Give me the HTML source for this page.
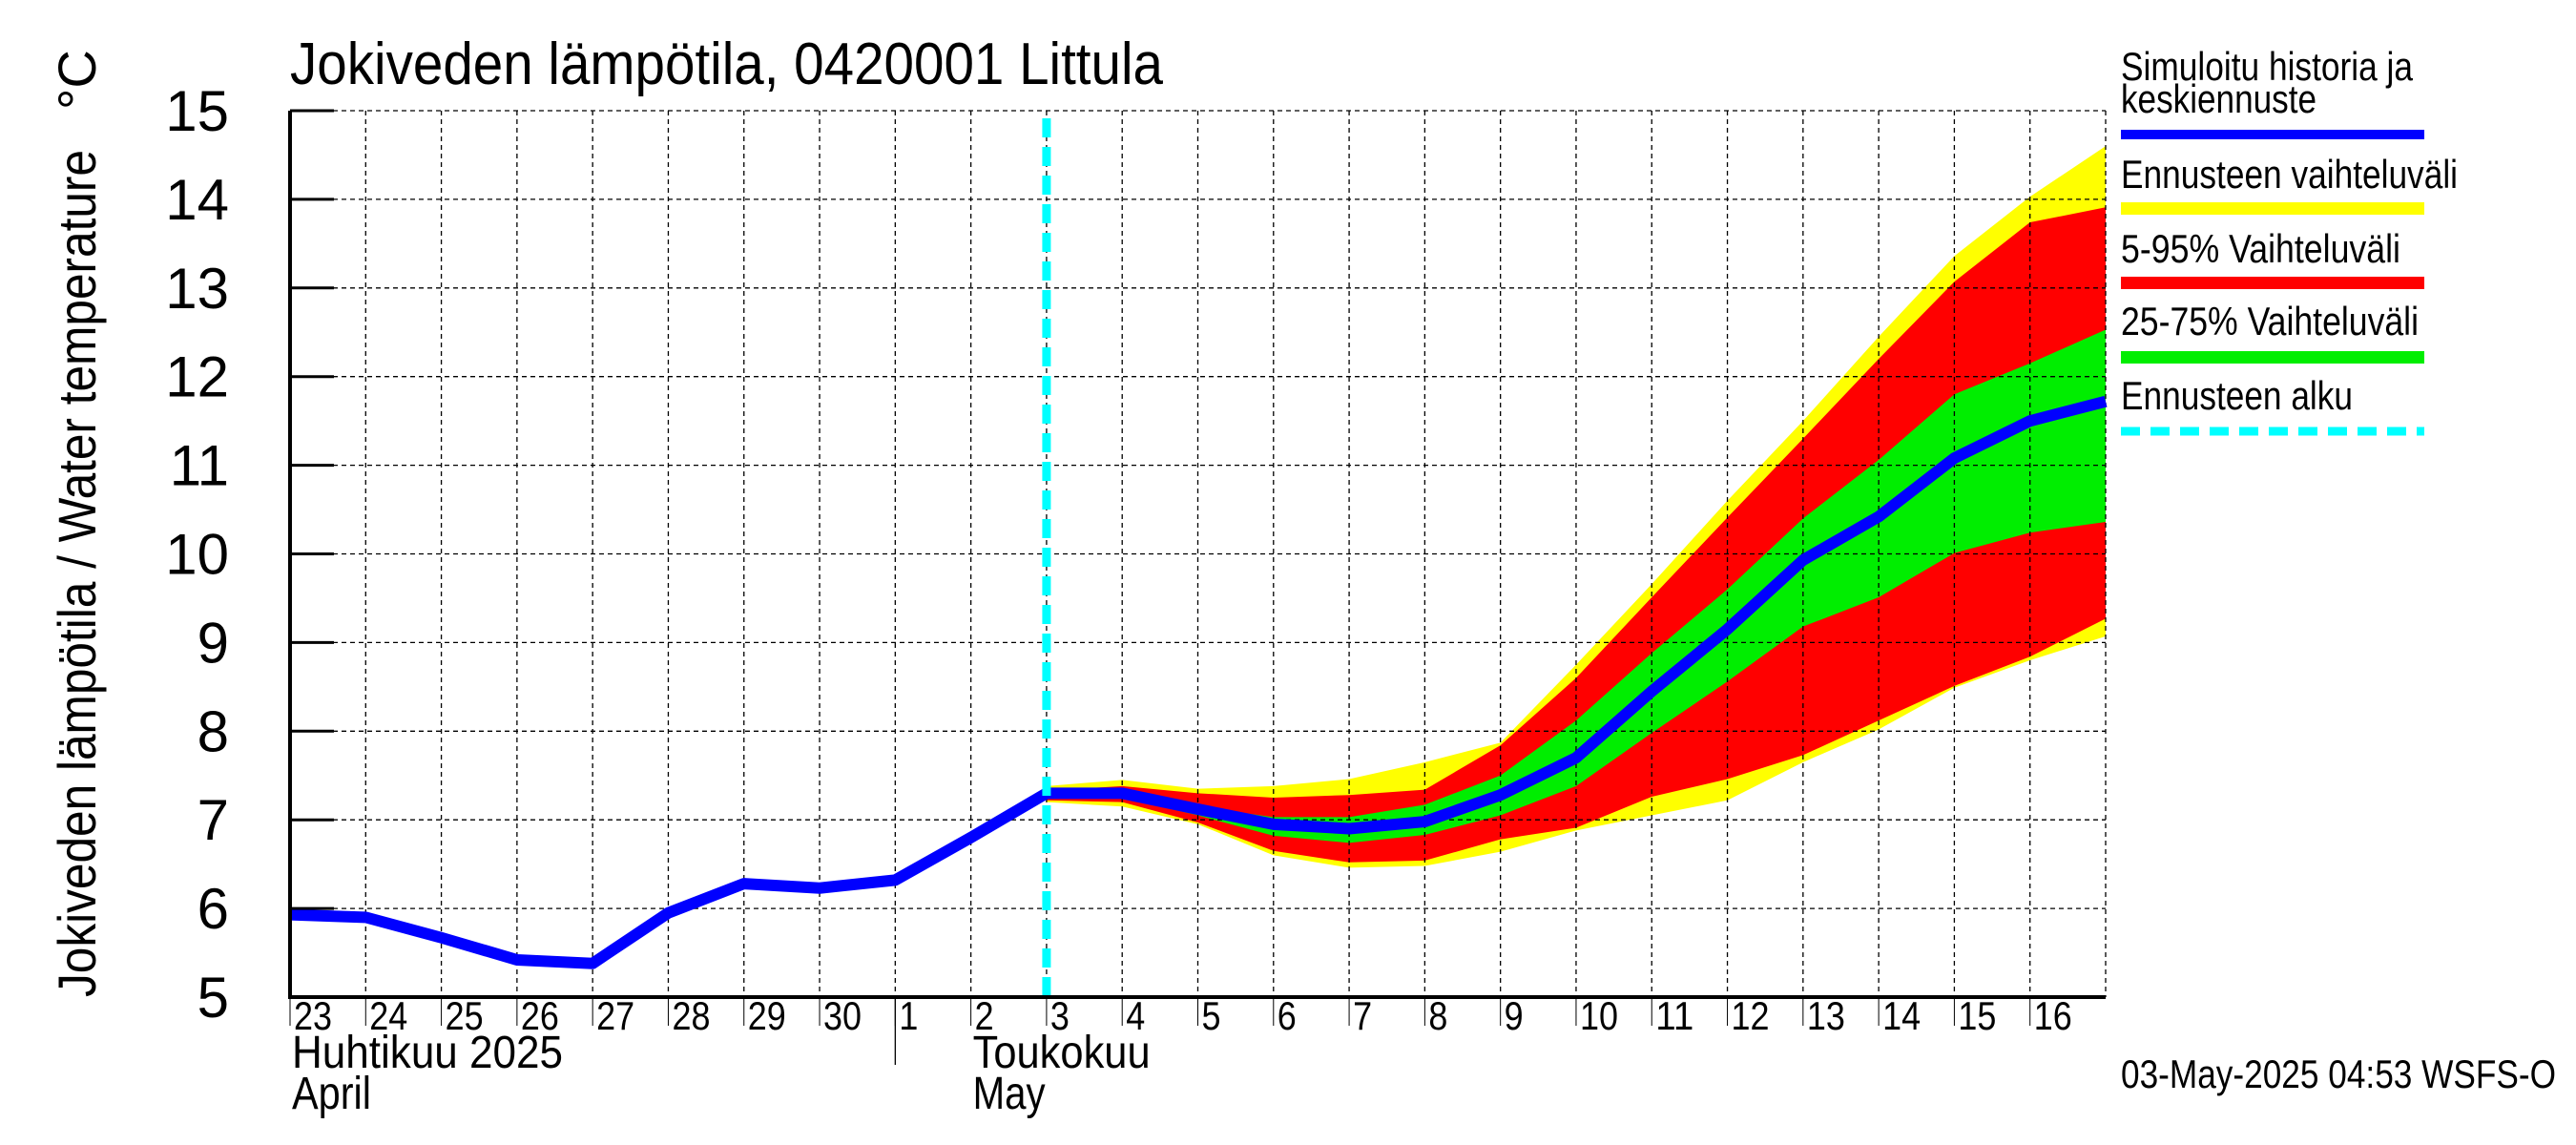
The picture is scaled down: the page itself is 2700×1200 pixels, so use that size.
<!DOCTYPE html>
<html><head><meta charset="utf-8"><style>
html,body{margin:0;padding:0;background:#fff;}
svg{display:block;font-family:"Liberation Sans",sans-serif;}
</style></head><body>
<svg id="chart" width="2700" height="1200" viewBox="0 0 2700 1200" xmlns="http://www.w3.org/2000/svg">
<rect width="2700" height="1200" fill="#fff"/>
<g id="bands"></g>
<g id="grid"></g>
<g id="series"></g>
<g id="axes"></g>
<text x="304" y="88" font-size="62" textLength="915" lengthAdjust="spacingAndGlyphs">Jokiveden lämpötila, 0420001 Littula</text>
<text transform="translate(100,1045) rotate(-90)" font-size="56" textLength="888" lengthAdjust="spacingAndGlyphs">Jokiveden lämpötila / Water temperature</text>
<text transform="translate(100,115) rotate(-90)" font-size="56">°C</text>
<g font-size="42">
<text x="2223" y="84" textLength="306" lengthAdjust="spacingAndGlyphs">Simuloitu historia ja</text>
<text x="2223" y="118" textLength="205" lengthAdjust="spacingAndGlyphs">keskiennuste</text>
<rect x="2223" y="136" width="318" height="10" fill="#0000ff"/>
<text x="2223" y="197" textLength="353" lengthAdjust="spacingAndGlyphs">Ennusteen vaihteluväli</text>
<rect x="2223" y="212" width="318" height="13" fill="#ffff00"/>
<text x="2223" y="275" textLength="293" lengthAdjust="spacingAndGlyphs">5-95% Vaihteluväli</text>
<rect x="2223" y="290" width="318" height="13" fill="#ff0000"/>
<text x="2223" y="351" textLength="312" lengthAdjust="spacingAndGlyphs">25-75% Vaihteluväli</text>
<rect x="2223" y="368" width="318" height="13" fill="#00ee00"/>
<text x="2223" y="429" textLength="243" lengthAdjust="spacingAndGlyphs">Ennusteen alku</text>
<line x1="2223" y1="452" x2="2541" y2="452" stroke="#00ffff" stroke-width="9" stroke-dasharray="20,11"/>
</g>
<text x="2223" y="1140" font-size="42" textLength="456" lengthAdjust="spacingAndGlyphs">03-May-2025 04:53 WSFS-O</text>
</svg>
<script>
const dayLabels=["23","24","25","26","27","28","29","30","1","2","3","4","5","6","7","8","9","10","11","12","13","14","15","16"];
const yTicks=[5,6,7,8,9,10,11,12,13,14,15];
const histValues=[5.93,5.9,5.67,5.42,5.38,5.95,6.28,6.23,6.32,6.8,7.3];
const fcDays=[10,11,12,13,14,15,16,17,18,19,20,21,22,23,24];
const fcMedian=[7.3,7.3,7.12,6.95,6.9,6.98,7.28,7.7,8.45,9.15,9.93,10.42,11.08,11.5,11.72];
const yellowTop=[7.38,7.45,7.35,7.38,7.46,7.65,7.87,8.75,9.66,10.6,11.5,12.45,13.36,14.03,14.6];
const yellowBot=[7.2,7.15,6.95,6.6,6.46,6.48,6.64,6.88,7.05,7.22,7.65,8.02,8.49,8.8,9.07];
const redTop=[7.33,7.38,7.3,7.25,7.28,7.34,7.84,8.6,9.51,10.41,11.3,12.2,13.07,13.74,13.91];
const redBot=[7.22,7.2,6.97,6.65,6.52,6.54,6.78,6.91,7.26,7.46,7.73,8.12,8.51,8.84,9.27];
const greenTop=[7.32,7.33,7.15,7.03,7.03,7.17,7.5,8.12,8.88,9.6,10.4,11.06,11.8,12.15,12.53];
const greenBot=[7.28,7.25,7.05,6.82,6.74,6.83,7.05,7.38,7.98,8.56,9.18,9.51,10.01,10.24,10.36];
const forecastStartDay=10;

const NS="http://www.w3.org/2000/svg";
const X0=304,X1=2207,Y0=1045,Y1=116,NDAYS=24;
const xs=d=>X0+(X1-X0)*d/NDAYS;
const ys=v=>Y0-(Y0-Y1)*(v-5)/10;
function mk(tag,attrs,parent){const e=document.createElementNS(NS,tag);for(const k in attrs)e.setAttribute(k,attrs[k]);parent.appendChild(e);return e;}
const bands=document.getElementById('bands'),grid=document.getElementById('grid'),series=document.getElementById('series'),axes=document.getElementById('axes');
function band(top,bot,color,name){
  let pts=fcDays.map((d,i)=>xs(d)+','+ys(top[i]));
  for(let i=fcDays.length-1;i>=0;i--)pts.push(xs(fcDays[i])+','+ys(bot[i]));
  const p=mk('polygon',{points:pts.join(' '),fill:color},bands);
  
  
}
band(yellowTop,yellowBot,'#ffff00','band-forecast-range');
band(redTop,redBot,'#ff0000','band-5-95');
band(greenTop,greenBot,'#00ee00','band-25-75');
yTicks.forEach(v=>{
  if(v>5){const l=mk('line',{x1:X0,x2:X1,y1:ys(v),y2:ys(v),stroke:'#000','stroke-width':1.3,'stroke-dasharray':'5,4'},grid);
  
  }
  const t=mk('line',{x1:X0,x2:X0+46,y1:ys(v),y2:ys(v),stroke:'#000','stroke-width':3},axes);
  
  
  const tx=mk('text',{x:240,y:ys(v)+21,'font-size':60,'text-anchor':'end'},axes);
  tx.textContent=String(v);
  
  
});
for(let d=1;d<=NDAYS;d++){
  const l=mk('line',{x1:xs(d),x2:xs(d),y1:Y1,y2:Y0,stroke:'#000','stroke-width':1.3,'stroke-dasharray':'5,4'},grid);
  
  
}
for(let d=0;d<NDAYS;d++){
  const t=mk('line',{x1:xs(d),x2:xs(d),y1:Y0,y2:Y0+30,stroke:'#000','stroke-width':1},axes);
  
  
  const tx=mk('text',{x:xs(d)+4,y:1079,'font-size':42,textLength:dayLabels[d].length*20,lengthAdjust:'spacingAndGlyphs'},axes);
  tx.textContent=dayLabels[d];
  
  
}
const allVals=histValues.concat(fcMedian.slice(1));
const line=mk('polyline',{points:allVals.map((v,i)=>xs(i)+','+ys(v)).join(' '),fill:'none',stroke:'#0000ff','stroke-width':12,'stroke-linejoin':'round'},series);


const cy=mk('line',{x1:xs(forecastStartDay),x2:xs(forecastStartDay),y1:Y1+8,y2:Y0,stroke:'#00ffff','stroke-width':9,'stroke-dasharray':'20,10'},series);


const ax=mk('path',{d:`M${X0},${Y1} L${X0},${Y0} L${X1},${Y0}`,fill:'none',stroke:'#000','stroke-width':4},axes);


const sep=mk('line',{x1:xs(8),x2:xs(8),y1:Y0,y2:1116,stroke:'#000','stroke-width':1.3},axes);


[["Huhtikuu  2025",X0,1119,284,'month-label-fi-april'],["April",X0,1162,83,'month-label-en-april'],["Toukokuu",xs(9),1119,186,'month-label-fi-may'],["May",xs(9),1162,76,'month-label-en-may']].forEach(m=>{
  const t=mk('text',{x:m[1]+2,y:m[2],'font-size':48,textLength:m[3],lengthAdjust:'spacingAndGlyphs','xml:space':'preserve'},axes);
  t.textContent=m[0];
  
  
});
</script>
</body></html>
